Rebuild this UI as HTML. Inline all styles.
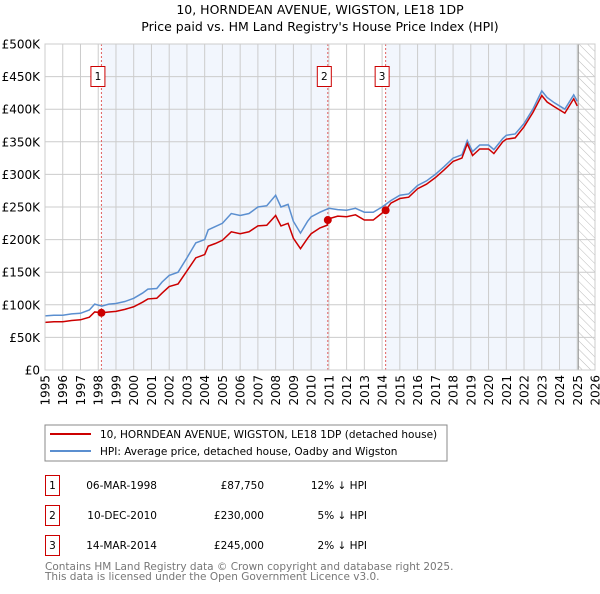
<!DOCTYPE html>
<html><head><meta charset="utf-8"><style>
body{margin:0;background:#fff;font-family:"DejaVu Sans","Liberation Sans",sans-serif;}
svg text{font-family:"DejaVu Sans","Liberation Sans",sans-serif;}
</style></head><body>
<svg id="c" width="600" height="590" xmlns="http://www.w3.org/2000/svg">
<text x="320" y="14" text-anchor="middle" font-size="12.5">10, HORNDEAN AVENUE, WIGSTON, LE18 1DP</text>
<text x="320" y="31" text-anchor="middle" font-size="12.5">Price paid vs. HM Land Registry's House Price Index (HPI)</text>
<g id="plot"></g>
<rect x="45" y="425" width="402" height="36" fill="#fff" stroke="#888"/>
<line x1="50" y1="434" x2="91" y2="434" stroke="#cc0000" stroke-width="2"/>
<text x="100" y="438" font-size="10.5">10, HORNDEAN AVENUE, WIGSTON, LE18 1DP (detached house)</text>
<line x1="50" y1="451" x2="91" y2="451" stroke="#5b8fd0" stroke-width="2"/>
<text x="100" y="455" font-size="10.5">HPI: Average price, detached house, Oadby and Wigston</text>
<g font-size="10.5">
<rect x="45.5" y="475.5" width="14" height="20" fill="none" stroke="#cc0000"/><text x="52.5" y="489" text-anchor="middle">1</text>
<text x="157" y="489" text-anchor="end">06-MAR-1998</text><text x="264" y="489" text-anchor="end">£87,750</text><text x="367" y="489" text-anchor="end">12% ↓ HPI</text>
<rect x="45.5" y="505.5" width="14" height="20" fill="none" stroke="#cc0000"/><text x="52.5" y="519" text-anchor="middle">2</text>
<text x="157" y="519" text-anchor="end">10-DEC-2010</text><text x="264" y="519" text-anchor="end">£230,000</text><text x="367" y="519" text-anchor="end">5% ↓ HPI</text>
<rect x="45.5" y="535.5" width="14" height="20" fill="none" stroke="#cc0000"/><text x="52.5" y="549" text-anchor="middle">3</text>
<text x="157" y="549" text-anchor="end">14-MAR-2014</text><text x="264" y="549" text-anchor="end">£245,000</text><text x="367" y="549" text-anchor="end">2% ↓ HPI</text>
</g>
<text x="45" y="570" font-size="10.5" fill="#777">Contains HM Land Registry data © Crown copyright and database right 2025.</text>
<text x="45" y="580" font-size="10.5" fill="#777">This data is licensed under the Open Government Licence v3.0.</text>
</svg>
<script>
const hpiYears=[1995,1995.5,1996,1996.5,1997,1997.5,1997.8,1998.2,1998.6,1999,1999.5,2000,2000.5,2000.8,2001.3,2001.6,2002,2002.5,2003,2003.5,2004,2004.2,2004.6,2005,2005.5,2006,2006.5,2007,2007.5,2008,2008.3,2008.7,2009,2009.4,2009.8,2010,2010.5,2011,2011.5,2012,2012.5,2013,2013.5,2014,2014.5,2015,2015.5,2016,2016.5,2017,2017.5,2018,2018.5,2018.8,2019.1,2019.5,2020,2020.3,2020.8,2021,2021.5,2022,2022.5,2023,2023.3,2023.7,2024,2024.3,2024.8,2025];
const hpiValues=[83,84,84,86,87,92,101,98,101,102,105,110,118,124,125,135,145,150,172,195,200,215,220,225,240,237,240,250,252,268,250,254,228,210,228,235,242,248,246,245,248,242,242,250,260,268,270,283,290,300,312,325,330,352,335,345,345,338,355,360,362,378,400,428,418,410,405,400,422,412];
const ppYears=[1995,1995.5,1996,1996.5,1997,1997.5,1997.8,1998.2,1998.6,1999,1999.5,2000,2000.5,2000.8,2001.3,2001.6,2002,2002.5,2003,2003.5,2004,2004.2,2004.6,2005,2005.5,2006,2006.5,2007,2007.5,2008,2008.3,2008.7,2009,2009.4,2009.8,2010,2010.5,2010.9,2011,2011.5,2012,2012.5,2013,2013.5,2014.2,2014.5,2015,2015.5,2016,2016.5,2017,2017.5,2018,2018.5,2018.8,2019.1,2019.5,2020,2020.3,2020.8,2021,2021.5,2022,2022.5,2023,2023.3,2023.7,2024,2024.3,2024.8,2025];
const ppValues=[73,74,74,76,77,81,89,87.75,89,90,93,97,104,109,110,118,128,132,152,172,177,190,194,199,212,209,212,221,222,237,221,225,202,186,202,209,218,222,232,236,235,238,230,230,245,256,263,265,278,285,295,307,320,325,347,329,339,339,332,350,354,356,373,395,421,411,404,399,394,416,405];
const saleYears=[1998.18,2010.94,2014.2];
const saleValues=[87.75,230,245];
const saleLabels=["1","2","3"];
const yTicks=[0,50,100,150,200,250,300,350,400,450,500];
const yTickLabels=["£0","£50K","£100K","£150K","£200K","£250K","£300K","£350K","£400K","£450K","£500K"];
const xTicks=[1995,1996,1997,1998,1999,2000,2001,2002,2003,2004,2005,2006,2007,2008,2009,2010,2011,2012,2013,2014,2015,2016,2017,2018,2019,2020,2021,2022,2023,2024,2025,2026];

const X0=45,X1=595,Y0=370,Y1=44;
const xs=y=>X0+(y-1995)/(2026-1995)*(X1-X0);
const ys=v=>Y0-v/500*(Y0-Y1);
const NS="http://www.w3.org/2000/svg";
const g=document.getElementById('plot');
function mk(t,a){const e=document.createElementNS(NS,t);for(const k in a)e.setAttribute(k,a[k]);g.appendChild(e);return e;}
let e;
e=mk('rect',{x:X0,y:Y1,width:X1-X0,height:Y0-Y1,fill:'#fff'});


e=mk('rect',{x:xs(saleYears[0]),y:Y1,width:xs(saleYears[1])-xs(saleYears[0]),height:Y0-Y1,fill:'#f2f6fd'});


e=mk('rect',{x:xs(saleYears[2]),y:Y1,width:xs(2025.06)-xs(saleYears[2]),height:Y0-Y1,fill:'#f2f6fd'});


const defs=document.createElementNS(NS,'defs');
defs.innerHTML='<pattern id="h" width="6" height="6" patternUnits="userSpaceOnUse" patternTransform="rotate(-45)"><line x1="0" y1="0" x2="0" y2="6" stroke="#bbb" stroke-width="1"/></pattern>';
g.appendChild(defs);
e=mk('rect',{x:xs(2025.06),y:Y1,width:X1-xs(2025.06),height:Y0-Y1,fill:'url(#h)'});


yTicks.forEach((v,i)=>{
 e=mk('line',{x1:X0,x2:X1,y1:ys(v),y2:ys(v),stroke:'#ccc','stroke-width':1});
 
 
 e=mk('text',{x:40,y:ys(v)+4.5,'text-anchor':'end','font-size':12});
 e.textContent=yTickLabels[i];
 
 
});
xTicks.forEach(v=>{
 e=mk('line',{x1:xs(v),x2:xs(v),y1:Y1,y2:Y0,stroke:'#ccc','stroke-width':1});
 
 
 e=mk('text',{x:0,y:0,'font-size':12,'text-anchor':'end',transform:`translate(${xs(v)+4.5},375) rotate(-90)`});
 e.textContent=v;
 
 
});
e=mk('line',{x1:xs(2025.06),x2:xs(2025.06),y1:Y1,y2:Y0,stroke:'#999','stroke-width':1});


saleYears.forEach((s,i)=>{
 e=mk('line',{x1:xs(s),x2:xs(s),y1:Y1,y2:Y0,stroke:'#e06060','stroke-width':1,'stroke-dasharray':'2,2'});
 
 
 e=mk('rect',{x:xs(s)-10.5,y:66.5,width:14,height:20,fill:'#fff',stroke:'#cc0000'});
 
 
 e=mk('text',{x:xs(s)-3.5,y:80,'text-anchor':'middle','font-size':10.5});
 e.textContent=saleLabels[i];
 
 
});
e=mk('polyline',{points:hpiYears.map((y,i)=>xs(y)+','+ys(hpiValues[i])).join(' '),fill:'none',stroke:'#5b8fd0','stroke-width':1.5});


e=mk('polyline',{points:ppYears.map((y,i)=>xs(y)+','+ys(ppValues[i])).join(' '),fill:'none',stroke:'#cc0000','stroke-width':1.5});


saleYears.forEach((s,i)=>{
 e=mk('circle',{cx:xs(s),cy:ys(saleValues[i]),r:4,fill:'#cc0000'});
 
 
});
e=mk('rect',{x:X0,y:Y1,width:X1-X0,height:Y0-Y1,fill:'none',stroke:'#ccc'});


</script>
</body></html>
